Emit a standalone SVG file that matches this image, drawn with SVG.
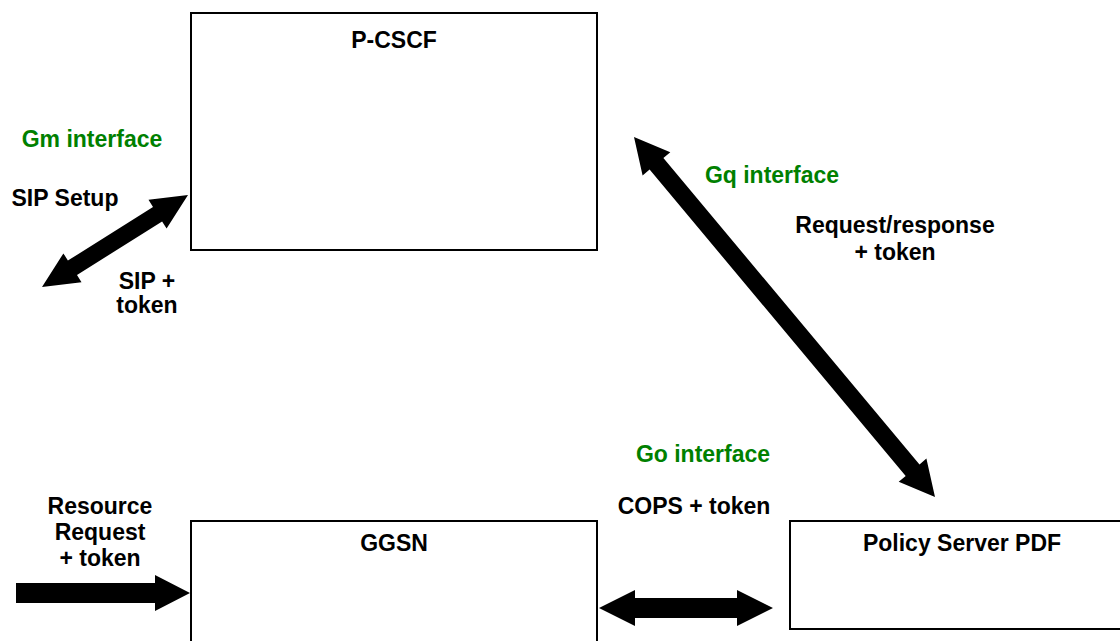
<svg xmlns="http://www.w3.org/2000/svg" width="1120" height="641" viewBox="0 0 1120 641">
<style>
.box{fill:#fff;stroke:#000;stroke-width:2}
text{font-family:"Liberation Sans",Arial,sans-serif;font-weight:bold;font-size:23px;text-anchor:middle;fill:#000}
.g{fill:#008000}
.arr{fill:#000;stroke:none}
</style>
<rect width="1120" height="641" fill="#fff"/>
<g id="pcscf">
<rect class="box" x="191" y="13" width="406" height="237"/>
<text x="394" y="48">P-CSCF</text>
</g>
<g id="ggsn">
<rect class="box" x="191" y="521" width="406" height="130"/>
<text x="394" y="551">GGSN</text>
</g>
<g id="pdf">
<rect class="box" x="790" y="521" width="345" height="108"/>
<text x="962" y="551">Policy Server PDF</text>
</g>
<g id="connectors">
<polygon class="arr" points="188,195 148.5,199.8 153,207 67.9,260.6 63.4,253.4 42,287 81.5,282.2 77,275 162.1,221.4 166.6,228.6"/>
<polygon class="arr" points="634,137 642.6,175.4 649.6,169.6 905.7,475.9 898.7,481.7 935,497 926.4,458.6 919.5,464.4 663.4,158.1 670.3,152.3"/>
<polygon class="arr" points="599,608 635,590 635,598 737,598 737,590 773,608 737,626 737,618 635,618 635,626"/>
<polygon class="arr" points="16,583 155,583 155,575 190,593 155,611 155,603 16,603"/>
</g>
<g id="labels">
<text class="g" x="92" y="147">Gm interface</text>
<text x="65" y="206">SIP Setup</text>
<text x="147" y="289">SIP +</text>
<text x="147" y="313">token</text>
<text class="g" x="772" y="183">Gq interface</text>
<text x="895" y="233">Request/response</text>
<text x="895" y="260">+ token</text>
<text class="g" x="703" y="462">Go interface</text>
<text x="694" y="514">COPS + token</text>
<text x="100" y="514">Resource</text>
<text x="100" y="540">Request</text>
<text x="100" y="566">+ token</text>
</g>
</svg>
